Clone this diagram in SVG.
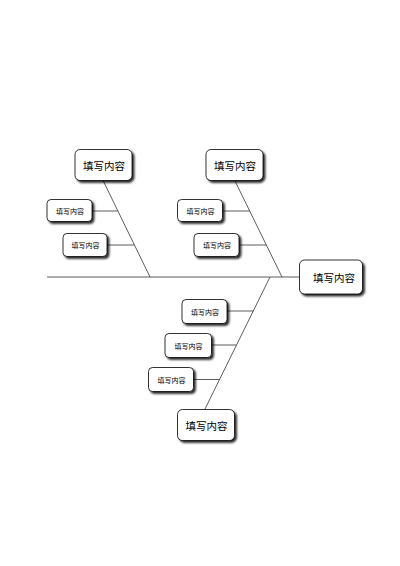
<svg xmlns="http://www.w3.org/2000/svg" width="400" height="566" viewBox="0 0 400 566">
<defs>
<filter id="sh" x="-20%" y="-20%" width="150%" height="160%">
<feGaussianBlur in="SourceAlpha" stdDeviation="0.8"/>
<feOffset dx="1.6" dy="1.8" result="b"/>
<feComponentTransfer><feFuncA type="linear" slope="0.85"/></feComponentTransfer>
<feMerge><feMergeNode/><feMergeNode in="SourceGraphic"/></feMerge>
</filter>
</defs>
<style>
.box{fill:#fff;stroke:#000;stroke-width:0.8;filter:url(#sh)}
.ln{stroke:#333;stroke-width:0.8;fill:none}
.bt{font-family:"Noto Sans CJK SC",sans-serif;font-size:10.5px;fill:#000;text-anchor:middle;dominant-baseline:central}
.st{font-family:"Noto Sans CJK SC",sans-serif;font-size:7px;fill:#000;text-anchor:middle;dominant-baseline:central}
</style>
<rect width="400" height="566" fill="#fff"/>
<g id="connectors">
<line class="ln" x1="47" y1="277" x2="299" y2="277"/>
<line class="ln" x1="103.3" y1="181" x2="150" y2="277"/>
<line class="ln" x1="235" y1="181" x2="282" y2="277"/>
<line class="ln" x1="270" y1="277" x2="205" y2="409"/>
<line class="ln" x1="91.7" y1="211" x2="117.7" y2="211"/>
<line class="ln" x1="106.7" y1="245" x2="134.3" y2="245"/>
<line class="ln" x1="222.7" y1="211" x2="249.7" y2="211"/>
<line class="ln" x1="239.3" y1="245" x2="266.4" y2="245"/>
<line class="ln" x1="226.7" y1="311" x2="253.3" y2="311"/>
<line class="ln" x1="211.7" y1="345" x2="236.3" y2="345"/>
<line class="ln" x1="193.3" y1="379.5" x2="219.2" y2="379.5"/>
</g>
<g id="head"><rect class="box" x="299.5" y="260" width="63" height="34" rx="5"/><text class="bt" x="334" y="277.5">填写内容</text></g>
<g id="cat1"><rect class="box" x="75" y="149.5" width="57" height="31" rx="5"/><text class="bt" x="104" y="165">填写内容</text></g>
<g id="cat2"><rect class="box" x="206" y="149.5" width="57" height="31" rx="5"/><text class="bt" x="235" y="165">填写内容</text></g>
<g id="cat3"><rect class="box" x="177.5" y="409.5" width="57" height="31" rx="5"/><text class="bt" x="206.5" y="425">填写内容</text></g>
<g id="sub1a"><rect class="box" x="47" y="199.5" width="45" height="22" rx="4"/><text class="st" x="70" y="210.5">填写内容</text></g>
<g id="sub1b"><rect class="box" x="63" y="233.5" width="44" height="23" rx="4"/><text class="st" x="85.5" y="245">填写内容</text></g>
<g id="sub2a"><rect class="box" x="177.5" y="199.5" width="45" height="22" rx="4"/><text class="st" x="200.5" y="210.5">填写内容</text></g>
<g id="sub2b"><rect class="box" x="194" y="233.5" width="45" height="23" rx="4"/><text class="st" x="217" y="245">填写内容</text></g>
<g id="sub3a"><rect class="box" x="182" y="299.5" width="45" height="24" rx="4"/><text class="st" x="205" y="311.5">填写内容</text></g>
<g id="sub3b"><rect class="box" x="165" y="333.5" width="46.5" height="24" rx="4"/><text class="st" x="188.5" y="345.5">填写内容</text></g>
<g id="sub3c"><rect class="box" x="148.5" y="367.5" width="45" height="24" rx="4"/><text class="st" x="171.5" y="379.5">填写内容</text></g>
</svg>
